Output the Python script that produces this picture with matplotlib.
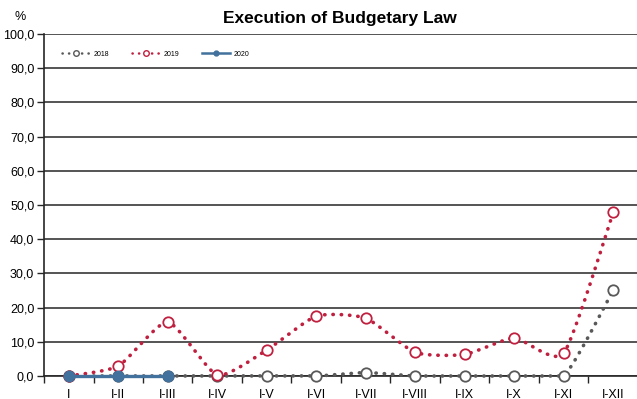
import numpy as np
import matplotlib
matplotlib.use('Agg')
import matplotlib.pyplot as plt
from matplotlib.lines import Line2D

plt.rcParams['font.family'] = ['Liberation Sans Narrow', 'Liberation Sans', 'DejaVu Sans']

months = ["I", "I-II", "I-III", "I-IV", "I-V", "I-VI", "I-VII", "I-VIII", "I-IX", "I-X", "I-XI", "I-XII"]
y2018 = [0.0, 0.0, 0.0, 0.0, 0.0, 0.0, 1.0, 0.0, 0.0, 0.0, 0.0, 25.1]
y2019 = [0.0, 2.9, 15.8, 0.3, 7.6, 17.5, 16.9, 6.9, 6.3, 11.1, 6.7, 47.9]
y2020 = [0.0, 0.0, 0.0]


def smooth(xs, ys, n=30, k=10):
    # Bezier curve through the points (spreadsheet "smoothed line")
    xs = np.asarray(xs, float)
    ys = np.asarray(ys, float)
    px = np.concatenate([[xs[0]], xs, [xs[-1]]])
    py = np.concatenate([[ys[0]], ys, [ys[-1]]])
    ox, oy = [], []
    for i in range(1, len(px) - 2):
        p0, p1, p2, p3 = (np.array([px[j], py[j]]) for j in range(i - 1, i + 3))
        c1 = p1 + (p2 - p0) / k
        c2 = p2 - (p3 - p1) / k
        t = np.linspace(0, 1, n)[:, None]
        b = (1 - t) ** 3 * p1 + 3 * (1 - t) ** 2 * t * c1 + 3 * (1 - t) * t ** 2 * c2 + t ** 3 * p2
        ox.extend(b[:, 0])
        oy.extend(b[:, 1])
    # keep the curve from dipping under the axis
    return np.array(ox), np.maximum(np.array(oy), 0)


fig = plt.figure(figsize=(6.37, 3.99), dpi=100)
ax = fig.add_axes([44 / 637, 23 / 399, 594 / 637, 342 / 399])

x = np.arange(len(months))
dot = (0, (0.1, 2.2))
c18, c19, c20 = '#595959', '#C0203F', '#41719C'

sx, sy = smooth(x, y2018)
ax.plot(sx, sy, color=c18, lw=2.6, linestyle=dot, dash_capstyle='round', zorder=3, clip_on=False)
ax.plot(x, y2018, 'o', ms=7.5, mfc='white', mec=c18, mew=1.3, zorder=4, clip_on=False)

sx, sy = smooth(x, y2019)
ax.plot(sx, sy, color=c19, lw=2.6, linestyle=dot, dash_capstyle='round', zorder=3, clip_on=False)
ax.plot(x, y2019, 'o', ms=7.5, mfc='white', mec=c19, mew=1.3, zorder=4, clip_on=False)

x20 = np.arange(len(y2020))
ax.plot(x20, y2020, '-o', color=c20, lw=2.4, ms=7.5, zorder=5, clip_on=False)

ax.set_xlim(-0.5, len(months) - 0.5)
ax.set_ylim(0, 100)
ax.set_yticks(np.arange(0, 101, 10))
ax.set_yticklabels([f"{v:.1f}".replace('.', ',') for v in np.arange(0, 101, 10)])
ax.yaxis.grid(True, color='#262626', lw=1.1)
ax.set_axisbelow(True)

ax.set_xticks(x)
ax.set_xticklabels(months)
ax.set_xticks(np.arange(-0.5, len(months), 1), minor=True)
ax.tick_params(axis='x', which='major', length=0, pad=9, labelsize=9)
ax.tick_params(axis='x', which='minor', length=5, width=1, color='#262626')
ax.tick_params(axis='y', length=5, width=1, color='#262626', labelsize=9, pad=2)

for s in ['top', 'right']:
    ax.spines[s].set_visible(False)
for s in ['left', 'bottom']:
    ax.spines[s].set_color('#262626')
    ax.spines[s].set_linewidth(1.2)
    ax.spines[s].set_zorder(2)

fig.text(20 / 637, 1 - 17 / 399, '%', fontsize=9, ha='center', va='center')
fig.text(340 / 637, 1 - 18 / 399, 'Execution of Budgetary Law', fontsize=12.5,
         fontweight='bold', ha='center', va='center')

handles = [
    Line2D([], [], color=c18, lw=1.8, linestyle=(0, (0.1, 2.5)), dash_capstyle='round',
           marker='o', ms=4, mfc='white', mec=c18),
    Line2D([], [], color=c19, lw=1.8, linestyle=(0, (0.1, 2.5)), dash_capstyle='round',
           marker='o', ms=4, mfc='white', mec=c19),
    Line2D([], [], color=c20, lw=1.8, marker='o', ms=3.5),
]
ax.legend(handles, ['2018', '2019', '2020'], loc='upper left', bbox_to_anchor=(0.02, 0.97),
          ncol=3, frameon=False, fontsize=5, handlelength=4, columnspacing=3.2,
          handletextpad=0.6)

fig.savefig('out.png', dpi=100)
